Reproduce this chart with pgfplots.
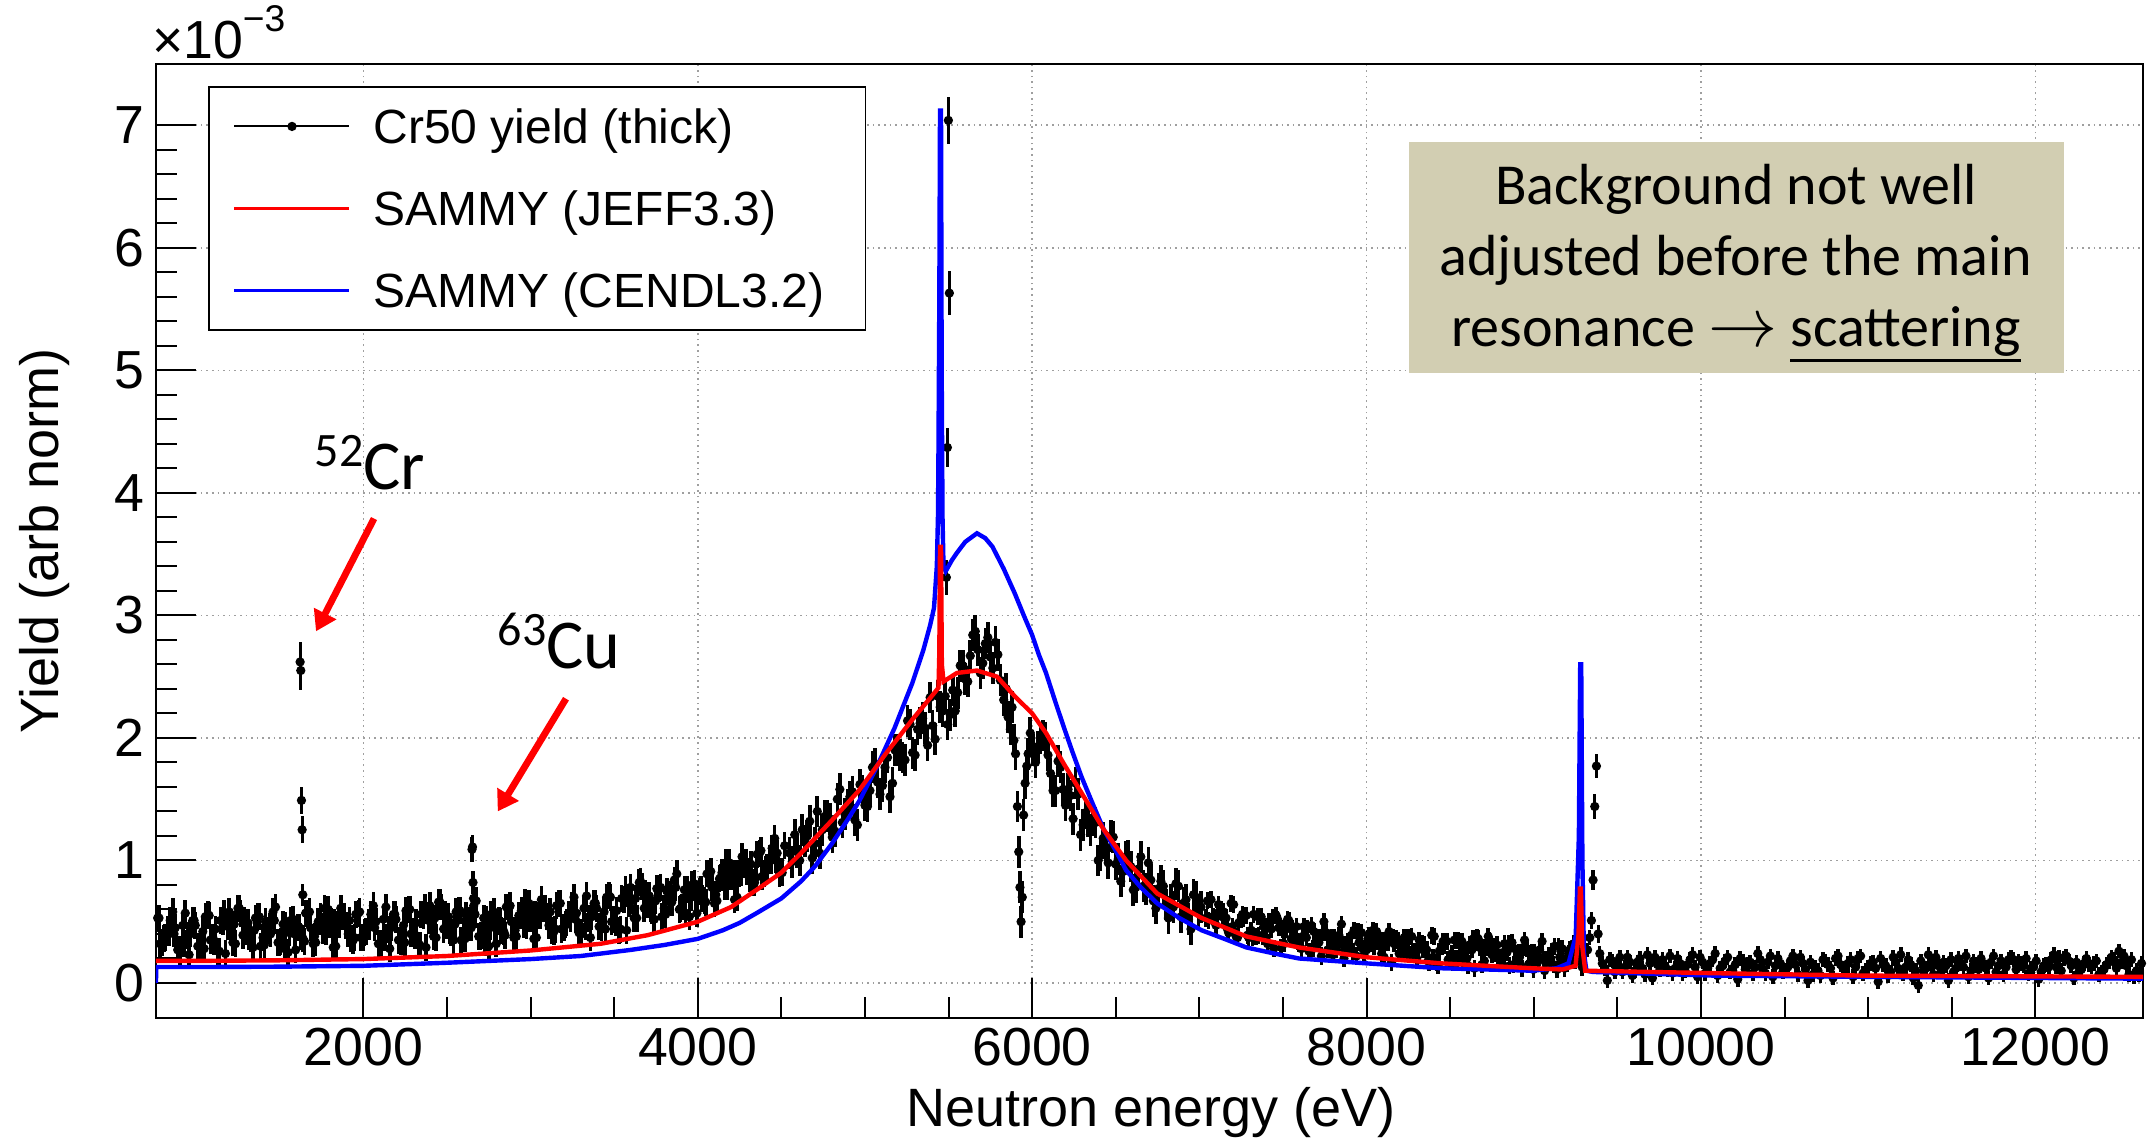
\documentclass[border=0pt]{standalone}
\usepackage{fontspec}
\setmainfont{Liberation Sans}
\newfontfamily\calibri{Carlito}
\usepackage{pgfplots}
\usepackage{pgfplotstable}
\pgfplotsset{compat=1.18}
\usetikzlibrary{arrows.meta,calc}
\definecolor{boxtan}{RGB}{210,206,178}
\newcommand\ulthick[1]{\setbox0\hbox{#1}\rlap{\rule[-3.9pt]{\wd0}{0.8pt}}\box0}

% ---------- measured yield, low-energy region ----------
\pgfplotstableread{
x y
770 0.53
800 0.33
830 0.44
860 0.58
890 0.27
920 0.47
950 0.39
980 0.51
1010 0.30
1040 0.42
1070 0.56
1100 0.37
1130 0.26
1160 0.50
1190 0.46
1220 0.33
1250 0.61
1280 0.39
1310 0.49
1340 0.29
1370 0.54
1400 0.37
1430 0.43
1460 0.58
1490 0.33
1520 0.48
1550 0.25
1580 0.52
1610 0.45
1640 0.36
1670 0.57
1700 0.32
1730 0.50
1760 0.43
1790 0.60
1820 0.29
1850 0.48
1880 0.54
1910 0.40
1940 0.35
1970 0.57
2000 0.37
2030 0.49
2060 0.63
2090 0.32
2120 0.52
2150 0.44
2180 0.56
2210 0.35
2240 0.47
2270 0.60
2300 0.42
2330 0.31
2360 0.55
2390 0.51
2420 0.38
2450 0.66
2480 0.44
2510 0.54
2540 0.35
2570 0.59
2600 0.42
2630 0.48
2660 0.63
2690 0.38
2720 0.53
2750 0.30
2780 0.58
2810 0.51
2840 0.42
2870 0.62
2900 0.37
2930 0.55
2960 0.48
2990 0.65
3020 0.36
3050 0.55
3080 0.61
3110 0.47
3140 0.42
3170 0.65
3200 0.45
3230 0.56
3260 0.70
3290 0.41
3320 0.61
3350 0.53
3380 0.65
3410 0.46
3440 0.58
3470 0.71
3500 0.52
3530 0.43
3560 0.68
3590 0.65
3620 0.53
3650 0.82
3680 0.61
3710 0.71
3740 0.52
3770 0.77
3800 0.61
3830 0.68
3860 0.84
3890 0.60
3920 0.76
3950 0.54
3980 0.81
4010 0.75
4040 0.67
4070 0.89
4100 0.65
4130 0.85
4160 0.79
4190 0.98
4220 0.68
4250 0.89
4280 0.97
4310 0.85
4340 0.82
4370 1.06
4400 0.89
4430 1.02
4460 1.18
4490 0.89
4520 1.12
785 0.32
815 0.37
845 0.51
875 0.45
905 0.26
935 0.57
965 0.40
995 0.47
1025 0.29
1055 0.54
1085 0.35
1115 0.44
1145 0.51
1175 0.24
1205 0.47
1235 0.32
1265 0.57
1295 0.42
1325 0.36
1355 0.53
1385 0.30
1415 0.50
1445 0.40
1475 0.62
1505 0.34
1535 0.47
1565 0.51
1595 0.27
1625 0.38
1655 0.57
1685 0.45
1715 0.33
1745 0.54
1775 0.42
1805 0.50
1835 0.30
1865 0.61
1895 0.47
1925 0.36
1955 0.56
1985 0.37
2015 0.42
2045 0.56
2075 0.50
2105 0.31
2135 0.62
2165 0.45
2195 0.52
2225 0.34
2255 0.59
2285 0.40
2315 0.49
2345 0.56
2375 0.29
2405 0.52
2435 0.37
2465 0.62
2495 0.47
2525 0.41
2555 0.58
2585 0.35
2615 0.55
2645 0.45
2675 0.67
2705 0.39
2735 0.52
2765 0.56
2795 0.32
2825 0.43
2855 0.62
2885 0.50
2915 0.38
2945 0.59
2975 0.47
3005 0.55
3035 0.37
3065 0.68
3095 0.54
3125 0.43
3155 0.63
3185 0.44
3215 0.49
3245 0.63
3275 0.57
3305 0.40
3335 0.71
3365 0.54
3395 0.61
3425 0.45
3455 0.70
3485 0.50
3515 0.59
3545 0.69
3575 0.43
3605 0.67
3635 0.53
3665 0.79
3695 0.64
3725 0.59
3755 0.77
3785 0.54
3815 0.75
3845 0.66
3875 0.89
3905 0.62
3935 0.76
3965 0.80
3995 0.57
4025 0.69
4055 0.89
4085 0.78
4115 0.67
4145 0.90
4175 0.79
4205 0.89
4235 0.70
4265 1.03
4295 0.91
4325 0.82
4355 1.05
4385 0.87
4415 0.94
4445 1.10
4475 1.06
4505 0.90
778 0.53
808 0.36
838 0.41
868 0.40
898 0.27
928 0.32
958 0.23
988 0.51
1018 0.30
1048 0.28
1078 0.55
1108 0.34
1138 0.26
1168 0.57
1198 0.58
1228 0.48
1258 0.61
1288 0.51
1318 0.38
1348 0.43
1378 0.54
1408 0.31
1438 0.46
1468 0.51
1498 0.33
1528 0.28
1558 0.41
1588 0.40
1618 0.45
1648 0.34
1678 0.58
1708 0.38
1738 0.50
1768 0.61
1798 0.48
1828 0.49
1858 0.48
1888 0.54
1918 0.51
1948 0.37
1978 0.58
2008 0.41
2038 0.46
2068 0.45
2098 0.32
2128 0.37
2158 0.28
2188 0.56
2218 0.35
2248 0.33
2278 0.60
2308 0.39
2338 0.31
2368 0.62
2398 0.63
2428 0.53
2458 0.66
2488 0.56
2518 0.43
2548 0.48
2578 0.59
2608 0.36
2638 0.51
2668 0.56
2698 0.38
2728 0.33
2758 0.46
2788 0.45
2818 0.50
2848 0.39
2878 0.63
2908 0.43
2938 0.55
2968 0.66
2998 0.53
3028 0.56
3058 0.55
3088 0.61
3118 0.58
3148 0.44
3178 0.65
3208 0.48
3238 0.53
3268 0.52
3298 0.41
3328 0.46
3358 0.37
3388 0.65
3418 0.46
3448 0.44
3478 0.70
3508 0.49
3538 0.44
3568 0.76
3598 0.78
3628 0.69
3658 0.83
3688 0.73
3718 0.61
3748 0.67
3778 0.78
3808 0.56
3838 0.72
3868 0.78
3898 0.61
3928 0.57
3958 0.70
3988 0.70
4018 0.76
4048 0.66
4078 0.91
4108 0.72
4138 0.86
4168 0.98
4198 0.87
4228 0.89
4258 0.90
4288 0.98
4318 0.97
4348 0.86
4378 1.08
4408 0.93
4438 1.00
4468 1.01
4498 0.91
}\dataLow

% ---------- resonance region ----------
\pgfplotstableread{
x y
4550 1.06
4580 1.21
4610 1.00
4640 1.16
4670 1.32
4700 1.14
4730 1.06
4760 1.36
4790 1.34
4820 1.24
4850 1.58
4880 1.38
4910 1.52
4940 1.33
4970 1.62
5000 1.45
5030 1.57
5060 1.79
5090 1.54
5120 1.76
5150 1.52
5180 1.90
5210 1.86
5240 1.82
5270 2.11
5300 1.86
5330 2.12
5360 2.08
5390 2.33
5420 1.99
5450 2.25
5480 2.34
5510 2.19
5540 2.22
5570 2.59
5600 2.48
5630 2.67
5660 2.87
5690 2.53
5720 2.77
5750 2.66
5780 2.78
5810 2.47
4565 0.99
4595 1.07
4625 1.25
4655 1.20
4685 1.02
4715 1.40
4745 1.25
4775 1.36
4805 1.19
4835 1.50
4865 1.31
4895 1.45
4925 1.56
4955 1.29
4985 1.57
5015 1.44
5045 1.76
5075 1.64
5105 1.61
5135 1.84
5165 1.63
5195 1.90
5225 1.84
5255 2.14
5285 1.88
5315 2.07
5345 2.16
5375 1.94
5405 2.10
5435 2.34
5465 2.22
5495 2.11
5525 2.39
5555 2.37
5585 2.59
5615 2.46
5645 2.84
5675 2.72
5705 2.61
5735 2.82
5765 2.57
5795 2.68
5830 2.31
5845 2.40
5856 2.17
5870 2.07
5880 2.25
5891 1.98
5901 1.87
5912 1.44
5920 1.07
5927 0.78
5934 0.50
5941 0.70
5949 1.37
5958 1.63
5968 1.77
5976 1.87
5989 2.04
6020 1.80
6050 2.00
6080 2.00
6110 1.71
6140 1.57
6170 1.76
6200 1.45
6230 1.53
6260 1.63
6290 1.21
6320 1.39
6350 1.25
6380 1.31
6410 1.04
6440 1.11
6470 1.20
6500 0.97
6530 0.83
6560 1.03
6590 0.95
6620 0.78
6650 1.03
6680 0.77
6710 0.84
6740 0.61
6770 0.83
6800 0.64
6830 0.68
6860 0.81
6890 0.54
6920 0.68
6950 0.44
6980 0.70
7010 0.62
6005 1.90
6035 1.93
6065 2.02
6095 1.86
6125 1.57
6155 1.81
6185 1.58
6215 1.58
6245 1.34
6275 1.54
6305 1.29
6335 1.32
6365 1.33
6395 1.00
6425 1.18
6455 0.98
6485 1.19
6515 1.01
6545 0.91
6575 1.04
6605 0.76
6635 0.93
6665 0.79
6695 0.98
6725 0.67
6755 0.77
6785 0.79
6815 0.53
6845 0.62
6875 0.79
6905 0.65
6935 0.52
6965 0.72
6995 0.59
}\dataPeak

% ---------- tail region ----------
\pgfplotstableread{
x y
7040 0.53
7070 0.68
7100 0.47
7130 0.60
7160 0.53
7190 0.65
7220 0.38
7250 0.52
7280 0.55
7310 0.43
7340 0.38
7370 0.54
7400 0.37
7430 0.44
7460 0.55
7490 0.29
7520 0.44
7550 0.36
7580 0.46
7610 0.28
7640 0.37
7670 0.47
7700 0.32
7730 0.22
7760 0.41
7790 0.37
7820 0.27
7850 0.48
7880 0.31
7910 0.39
7940 0.22
7970 0.41
8000 0.27
8030 0.32
8060 0.42
8090 0.24
8120 0.34
8150 0.17
8180 0.36
8210 0.31
8240 0.24
8270 0.38
8300 0.20
8330 0.32
8360 0.27
8390 0.39
8420 0.17
8450 0.30
8480 0.34
8510 0.24
8540 0.20
8570 0.34
8600 0.20
8630 0.27
8660 0.37
8690 0.15
8720 0.29
8750 0.23
8780 0.31
8810 0.16
8840 0.25
8870 0.33
8900 0.19
8930 0.12
8960 0.28
8990 0.25
9020 0.16
9050 0.34
9080 0.19
9110 0.26
9140 0.11
9170 0.28
9200 0.16
9230 0.20
9260 0.29
9290 0.13
7055 0.51
7085 0.54
7115 0.64
7145 0.58
7175 0.41
7205 0.64
7235 0.49
7265 0.53
7295 0.37
7325 0.56
7355 0.39
7385 0.46
7415 0.50
7445 0.28
7475 0.45
7505 0.32
7535 0.51
7565 0.38
7595 0.32
7625 0.46
7655 0.26
7685 0.42
7715 0.33
7745 0.50
7775 0.27
7805 0.37
7835 0.39
7865 0.20
7895 0.29
7925 0.43
7955 0.33
7985 0.23
8015 0.39
8045 0.30
8075 0.35
8105 0.21
8135 0.42
8165 0.32
8195 0.24
8225 0.37
8255 0.23
8285 0.26
8315 0.35
8345 0.31
8375 0.17
8405 0.38
8435 0.26
8465 0.31
8495 0.19
8525 0.35
8555 0.21
8585 0.27
8615 0.31
8645 0.12
8675 0.29
8705 0.18
8735 0.35
8765 0.24
8795 0.20
8825 0.32
8855 0.14
8885 0.28
8915 0.21
8945 0.35
8975 0.16
9005 0.25
9035 0.27
9065 0.10
9095 0.17
9125 0.30
9155 0.21
9185 0.12
9215 0.27
9245 0.18
9275 0.23
7048 0.67
7078 0.54
7108 0.57
7138 0.54
7168 0.44
7198 0.46
7228 0.37
7258 0.56
7288 0.39
7318 0.37
7348 0.54
7378 0.38
7408 0.32
7438 0.53
7468 0.52
7498 0.44
7528 0.52
7558 0.44
7588 0.34
7618 0.38
7648 0.44
7678 0.28
7708 0.37
7738 0.41
7768 0.27
7798 0.23
7828 0.32
7858 0.31
7888 0.34
7918 0.26
7948 0.42
7978 0.28
8008 0.36
8038 0.43
8068 0.34
8098 0.35
8128 0.33
8158 0.37
8188 0.35
8218 0.24
8248 0.37
8278 0.25
8308 0.28
8338 0.27
8368 0.18
8398 0.21
8428 0.14
8458 0.34
8488 0.19
8518 0.17
8548 0.35
8578 0.20
8608 0.14
8638 0.36
8668 0.36
8698 0.29
8728 0.38
8758 0.30
8788 0.21
8818 0.25
8848 0.32
8878 0.15
8908 0.25
8938 0.29
8968 0.15
8998 0.11
9028 0.21
9058 0.19
9088 0.22
9118 0.15
9148 0.30
9178 0.16
9208 0.24
9238 0.32
9268 0.22
}\dataTail

% ---------- far tail, above the 9.3 keV resonance ----------
\pgfplotstableread{
x y
9410 0.16
9440 0.02
9470 0.18
9500 0.14
9530 0.09
9560 0.21
9590 0.06
9620 0.17
9650 0.12
9680 0.23
9710 0.04
9740 0.15
9770 0.19
9800 0.11
9830 0.08
9860 0.20
9890 0.08
9920 0.15
9950 0.23
9980 0.05
10010 0.17
10040 0.12
10070 0.19
10100 0.06
10130 0.14
10160 0.21
10190 0.10
10220 0.03
10250 0.18
10280 0.15
10310 0.08
10340 0.24
10370 0.11
10400 0.17
10430 0.05
10460 0.20
10490 0.09
10520 0.13
10550 0.22
10580 0.07
10610 0.16
10640 0.02
10670 0.07
10700 0.10
10730 0.19
10760 0.15
10790 0.04
10820 0.22
10850 0.12
10880 0.16
10910 0.05
10940 0.20
10970 0.08
11000 0.13
11030 0.17
11060 0.01
11090 0.15
11120 0.06
11150 0.21
11180 0.12
11210 0.08
11240 0.19
11270 0.04
11300 -0.02
11330 0.10
11360 0.23
11390 0.07
11420 0.14
11450 0.17
11480 0.02
11510 0.09
11540 0.20
11570 0.13
11600 0.05
11630 0.18
11660 0.11
11690 0.16
11720 0.04
11750 0.22
11780 0.14
11810 0.07
11840 0.19
11870 0.19
11900 0.18
11930 0.14
11960 0.08
11990 0.13
12020 0.03
12050 0.14
12080 0.13
12110 0.23
12140 0.21
12170 0.20
12200 0.18
12230 0.04
12260 0.09
12290 0.16
12320 0.15
12350 0.16
12380 0.07
12410 0.11
12440 0.17
12470 0.19
12500 0.26
12530 0.22
12560 0.07
12590 0.05
12620 0.07
9425 0.12
9455 0.19
9485 0.09
9515 0.21
9545 0.13
9575 0.17
9605 0.10
9635 0.20
9665 0.07
9695 0.16
9725 0.21
9755 0.11
9785 0.14
9815 0.22
9845 0.12
9875 0.16
9905 0.10
9935 0.19
9965 0.13
9995 0.21
10025 0.08
10055 0.16
10085 0.24
10115 0.12
10145 0.18
10175 0.09
10205 0.15
10235 0.20
10265 0.11
10295 0.17
10325 0.13
10355 0.19
10385 0.08
10415 0.22
10445 0.14
10475 0.16
10505 0.10
10535 0.18
10565 0.15
10595 0.21
10625 0.11
10655 0.17
10685 0.13
10715 0.06
10745 0.18
10775 0.12
10805 0.20
10835 0.15
10865 0.09
10895 0.19
10925 0.13
10955 0.22
10985 0.10
11015 0.16
11045 0.12
11075 0.20
11105 0.14
11135 0.09
11165 0.17
11195 0.23
11225 0.13
11255 0.15
11285 0.10
11315 0.18
11345 0.12
11375 0.16
11405 0.21
11435 0.09
11465 0.14
11495 0.19
11525 0.12
11555 0.16
11585 0.22
11615 0.10
11645 0.15
11675 0.20
11705 0.12
11735 0.17
11765 0.09
11795 0.18
11825 0.13
11855 0.21
11885 0.11
11915 0.16
11945 0.20
11975 0.12
12005 0.18
12035 0.09
12065 0.15
12095 0.19
12125 0.13
12155 0.10
12185 0.22
12215 0.14
12245 0.17
12275 0.11
12305 0.20
12335 0.13
12365 0.18
12395 0.09
12425 0.15
12455 0.21
12485 0.12
12515 0.17
12545 0.14
12575 0.19
12605 0.10
12635 0.16
}\dataFar

% ---------- isolated points with their own errors ----------
\pgfplotstableread{
x y e
1622 2.62 0.16
1626 2.55 0.16
1630 1.49 0.11
1634 1.25 0.11
1638 0.72 0.09
2650 1.09 0.10
2653 1.11 0.10
2656 0.82 0.09
2659 0.69 0.09
5487 3.31 0.14
5493 4.37 0.16
5499 7.04 0.19
5505 5.63 0.18
9322 0.27 0.06
9335 0.37 0.06
9345 0.51 0.07
9355 0.84 0.08
9365 1.44 0.10
9375 1.77 0.10
9385 0.40 0.07
9395 0.24 0.06
}\dataSpec

% ---------- SAMMY (CENDL3.2) ----------
\pgfplotstableread{
x y
760 0.00
761 0.13
1000 0.13
1500 0.133
2000 0.14
2500 0.165
3000 0.195
3300 0.22
3600 0.27
3800 0.31
4000 0.36
4150 0.43
4250 0.49
4352 0.57
4500 0.69
4618 0.83
4700 0.95
4804 1.14
4900 1.34
4964 1.48
5070 1.76
5177 2.08
5284 2.45
5350 2.72
5390 2.92
5413 3.06
5430 3.40
5437 3.82
5440 4.38
5445 5.60
5449 7.12
5455 7.12
5459 5.00
5464 3.80
5470 3.40
5483 3.36
5520 3.45
5550 3.51
5600 3.60
5670 3.67
5720 3.63
5763 3.56
5830 3.38
5896 3.18
5950 3.00
6000 2.84
6040 2.68
6083 2.53
6140 2.29
6189 2.09
6240 1.89
6296 1.68
6360 1.47
6429 1.25
6500 1.08
6562 0.92
6650 0.78
6748 0.65
6880 0.53
7014 0.43
7150 0.36
7281 0.29
7450 0.24
7595 0.20
7800 0.18
8000 0.16
8448 0.12
8991 0.10
9136 0.12
9208 0.16
9251 0.38
9270 1.20
9278 2.60
9284 2.60
9291 1.00
9300 0.25
9315 0.10
9353 0.09
10076 0.06
11000 0.05
12644 0.035
}\blueTab

% ---------- SAMMY (JEFF3.3) ----------
\pgfplotstableread{
x y
760 0.18
1000 0.18
1500 0.185
2000 0.195
2500 0.22
3000 0.265
3420 0.32
3700 0.39
4000 0.50
4200 0.62
4352 0.76
4500 0.90
4618 1.06
4804 1.33
4964 1.57
5124 1.87
5284 2.15
5417 2.37
5440 2.41
5445 2.70
5449 3.56
5455 3.56
5460 2.60
5470 2.46
5550 2.53
5670 2.55
5790 2.50
5896 2.34
6000 2.20
6083 2.04
6189 1.79
6296 1.55
6429 1.25
6562 1.00
6748 0.73
7014 0.53
7281 0.38
7595 0.29
8000 0.21
8448 0.16
8991 0.12
9172 0.11
9250 0.14
9268 0.40
9276 0.77
9282 0.77
9290 0.30
9308 0.10
10076 0.08
10980 0.06
12644 0.05
}\redTab

\pgfplotsset{
  datapts/.style={only marks, mark=*, mark size=0.95pt, black, forget plot},
  ebarf/.style={error bars/.cd, y dir=both, y fixed=#1, error mark=none,
    error bar style={line width=0.9pt, black}, /pgfplots/.cd},
  ebare/.style={error bars/.cd, y dir=both, y explicit, error mark=none,
    error bar style={line width=0.8pt, black}, /pgfplots/.cd},
}

\begin{document}
\begin{tikzpicture}
\begin{axis}[
  name=ax,
  scale only axis,
  width=496.75pt, height=238.5pt,
  xmin=760, xmax=12644, ymin=-0.286, ymax=7.5,
  xtick={2000,4000,6000,8000,10000,12000},
  ytick={0,1,2,3,4,5,6,7},
  minor x tick num=3, minor y tick num=4,
  tick align=inside, tick pos=left,
  major tick length=10pt, minor tick length=5.3pt,
  grid=major,
  major grid style={densely dotted, gray!75, line width=0.4pt},
  axis line style={line width=0.6pt},
  tick style={black, line width=0.5pt},
  /pgf/number format/assume math mode=true,
  /pgf/number format/1000 sep={},
  scaled x ticks=false, scaled y ticks=false,
  xticklabel style={font=\fontsize{13.4}{14}\selectfont, inner sep=0pt, yshift=-2.3pt},
  yticklabel style={font=\fontsize{13.4}{14}\selectfont, inner sep=0pt, xshift=-2.8pt},
  clip mode=individual,
  legend cell align=left,
  legend image code/.code={\draw[mark repeat=2,mark phase=2,#1] plot coordinates {(0pt,0pt) (14.4pt,0pt) (28.75pt,0pt)};},
  legend style={at={(rel axis cs:0.02617,0.9769)}, anchor=north west,
    draw=black, fill=white, font=\fontsize{12}{14}\selectfont,
    inner xsep=6pt, inner ysep=5.6pt, row sep=11.9pt, column sep=5.6pt,
    nodes={inner sep=0pt, text height=8.6pt, text depth=0pt}},
]
% measured data
\addplot[datapts, ebarf=0.11] table {\dataLow};
\addplot[datapts, ebarf=0.13] table {\dataPeak};
\addplot[datapts, ebarf=0.07] table {\dataTail};
\addplot[datapts, ebarf=0.06] table {\dataFar};
\addplot[datapts, ebare] table[y error=e] {\dataSpec};
% SAMMY curves
\addplot[blue, line width=1.1pt, forget plot] table {\blueTab};
\addplot[red, line width=1.1pt, forget plot] table {\redTab};

% legend
\addlegendimage{black, line width=0.5pt, mark=*, mark size=0.9pt}
\addlegendentry{Cr50 yield (thick)}
\addlegendimage{red, line width=0.8pt}
\addlegendentry{SAMMY (JEFF3.3)}
\addlegendimage{blue, line width=0.8pt}
\addlegendentry{\makebox[117pt][l]{SAMMY (CENDL3.2)}}

% annotations
\node[fill=boxtan, minimum width=163.75pt, minimum height=57.75pt, inner sep=0pt]
  at (axis cs:10210,5.92) {};
\node[inner sep=0pt, align=center, font=\calibri\fontsize{14.5}{17.8}\selectfont]
  at (axis cs:10210,5.875)
  {Background not well\\adjusted before the main\\resonance {\fontsize{16}{17}\selectfont$\rightarrow$} \ulthick{scattering}};

\node[anchor=base west, inner sep=0pt, font=\calibri\fontsize{17.5}{20}\selectfont]
  at (axis cs:1706,4.03) {\raisebox{5.6pt}{\fontsize{12}{12}\selectfont 52}Cr};
\node[anchor=base west, inner sep=0pt, font=\calibri\fontsize{17.5}{20}\selectfont]
  at (axis cs:2799,2.57) {\raisebox{5.6pt}{\fontsize{12}{12}\selectfont 63}Cu};

\draw[red, line width=1.7pt, -{Triangle[length=5pt,width=6pt]}]
  (axis cs:2064,3.79) -- (axis cs:1717,2.87);
\draw[red, line width=1.7pt, -{Triangle[length=5pt,width=6pt]}]
  (axis cs:3212,2.32) -- (axis cs:2804,1.40);
\end{axis}

\node[anchor=base, inner sep=0pt, font=\fontsize{13.5}{16}\selectfont]
  at ($(ax.south west)+(248.75pt,-27pt)$) {Neutron energy (eV)};
\node[anchor=base, rotate=90, inner sep=0pt, font=\fontsize{13.5}{16}\selectfont]
  at ($(ax.south west)+(-24.25pt,119.25pt)$) {Yield (arb norm)};
\node[anchor=base west, inner sep=0pt, font=\fontsize{13.4}{14}\selectfont]
  at ($(ax.north west)+(-1.2pt,1.25pt)$) {×10\raisebox{6.8pt}{\fontsize{9.3}{10}\selectfont −3}};

\pgfresetboundingbox
\path ($(ax.south west)+(-39pt,-29.75pt)$) rectangle ($(ax.north east)+(1.75pt,16pt)$);
\end{tikzpicture}
\end{document}
